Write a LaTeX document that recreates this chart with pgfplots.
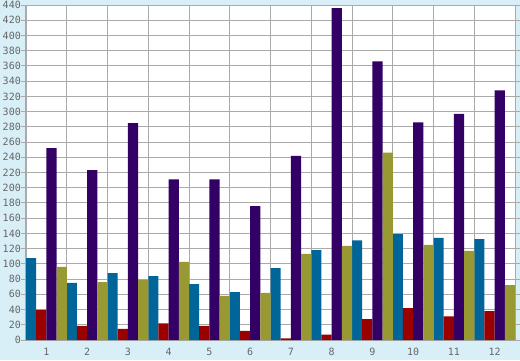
\documentclass[border=0pt]{standalone}
\usepackage{fontspec}
\setmonofont{DejaVu Sans Mono}
\usepackage{pgfplots}
\pgfplotsset{compat=1.18}
\definecolor{bg}{RGB}{217,239,247}
\definecolor{gridgray}{RGB}{170,170,170}
\definecolor{labgray}{RGB}{102,102,102}
\definecolor{cblue}{HTML}{006699}
\definecolor{cred}{HTML}{990000}
\definecolor{cpurple}{HTML}{330066}
\definecolor{colive}{HTML}{999933}
\begin{document}
\begin{tikzpicture}
\fill[bg] (0,0) rectangle (520pt,360pt);
\useasboundingbox (0,0) rectangle (520pt,360pt);
\begin{axis}[
  at={(26pt,20pt)}, anchor=south west,
  width=489pt, height=335pt, scale only axis,
  axis background/.style={fill=white},
  xmin=0.5, xmax=12.5, ymin=0, ymax=440,
  ytick={0,20,...,440},
  xtick={1,2,3,4,5,6,7,8,9,10,11,12},
  xticklabels={1,2,3,4,5,6,7,8,9,10,11,12},
  xtick style={draw=none},
  xticklabel style={anchor=center, inner sep=0pt, yshift=-7pt},
  extra x ticks={0.5,1.5,2.5,3.5,4.5,5.5,6.5,7.5,8.5,9.5,10.5,11.5,12.5},
  extra x tick labels={},
  extra x tick style={grid=major, tick style={draw=gridgray, line width=1pt}},
  ymajorgrids,
  major grid style={draw=gridgray, line width=1pt},
  axis line style={draw=gridgray, line width=1pt},
  ytick style={draw=gridgray, line width=1pt},
  tick align=outside,
  major tick length=5pt,
  /pgf/number format/assume math mode=true,
  tick label style={font=\fontsize{10}{10}\selectfont\ttfamily, text=labgray},
  yticklabel style={anchor=east, inner sep=0pt, xshift=0pt},
  ybar, bar width=0.25,
  every axis plot/.append style={draw=none},
]
\addplot[fill=cblue, bar shift=-0.375] coordinates {(1,107.5)(2,75)(3,88)(4,84)(5,73.5)(6,63)(7,94.5)(8,118)(9,131)(10,139)(11,134)(12,132.5)};
\addplot[fill=cred, bar shift=-0.125] coordinates {(1,39.5)(2,18.5)(3,14.5)(4,22)(5,18.5)(6,12)(7,2)(8,7)(9,27.5)(10,42)(11,31)(12,38)};
\addplot[fill=cpurple, bar shift=0.125] coordinates {(1,252)(2,223)(3,285)(4,211)(5,211)(6,176)(7,242)(8,436)(9,366)(10,286)(11,297)(12,328)};
\addplot[fill=colive, bar shift=0.375] coordinates {(1,96)(2,76)(3,79)(4,102.5)(5,58)(6,62)(7,113)(8,123.5)(9,246)(10,125)(11,117)(12,72)};
\end{axis}
\end{tikzpicture}
\end{document}
